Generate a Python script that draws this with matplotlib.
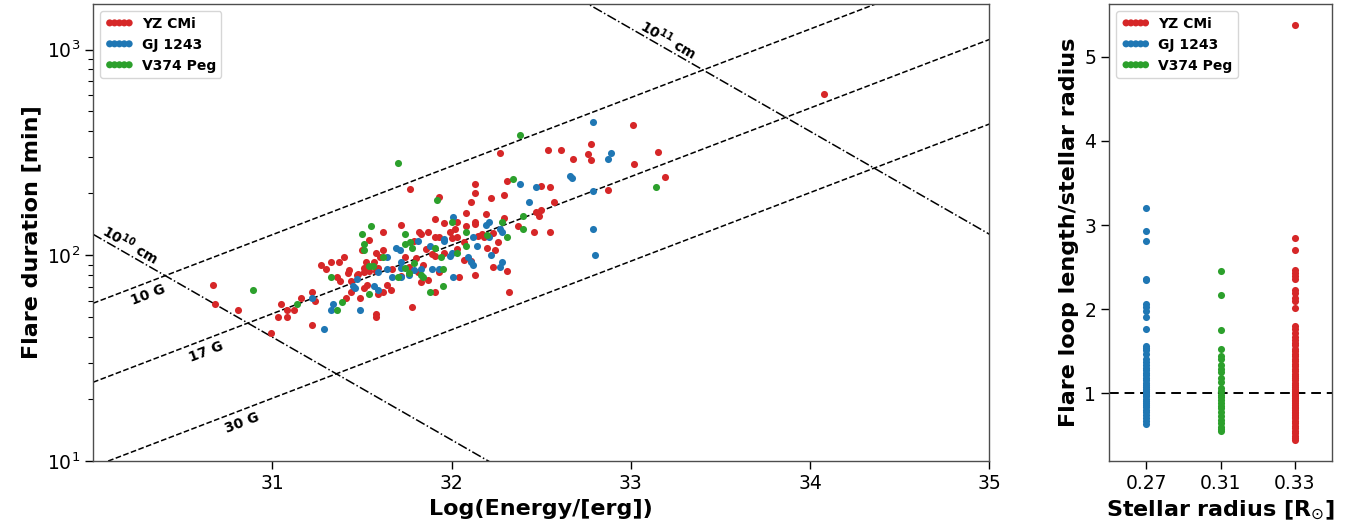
import numpy as np
import matplotlib
matplotlib.use("Agg")
import matplotlib.pyplot as plt

# ---- left panel: flare energy (log erg) vs duration (min)
yz_logE = [30.67, 30.68, 30.81, 30.99, 31.05, 31.03, 31.08, 31.08, 31.12, 31.16,
           31.22, 31.24, 31.22, 31.27, 31.30, 31.33, 31.36, 31.37, 31.40, 31.72,
           31.54, 31.62, 31.50, 31.62, 31.58, 31.60, 31.52, 31.57, 31.43, 31.42,
           31.51, 31.59, 31.58, 31.54, 31.51, 31.67, 31.38, 31.47, 31.48, 31.44,
           31.44, 31.51, 31.53, 31.64, 31.66, 31.62, 31.49, 31.41, 31.59, 31.58,
           31.58, 31.78, 31.77, 31.93, 32.13, 32.13, 32.11, 32.08, 32.13, 32.13,
           31.91, 31.96, 32.03, 32.08, 32.02, 31.99, 31.82, 31.87, 31.83, 31.91,
           31.93, 32.00, 32.03, 32.07, 31.79, 31.86, 32.03, 31.89, 31.91, 31.96,
           32.07, 31.74, 31.80, 31.76, 31.81, 31.84, 31.93, 31.87, 31.83, 32.04,
           32.13, 31.72, 31.91, 32.27, 32.54, 32.31, 32.22, 32.29, 32.50, 32.55,
           32.57, 32.19, 32.17, 32.18, 32.23, 32.29, 32.26, 32.15, 32.20, 32.24,
           32.23, 32.31, 32.11, 32.37, 32.46, 32.47, 32.50, 32.49, 32.55, 33.01,
           32.61, 32.68, 32.78, 32.76, 32.78, 33.15, 33.02, 33.19, 32.87, 34.08,
           32.32]
yz_dur = [72, 58, 54, 42, 58, 50, 50, 54, 54, 62,
          66, 60, 46, 90, 86, 93, 78, 93, 98, 140,
          118, 130, 106, 106, 102, 98, 93, 93, 85, 82,
          87, 87, 84, 84, 83, 86, 75, 80, 81, 75,
          66, 69, 72, 72, 68, 66, 62, 62, 65, 50,
          52, 56, 210, 192, 222, 201, 181, 160, 145, 142,
          150, 143, 145, 138, 134, 130, 130, 130, 127, 122,
          122, 121, 122, 116, 117, 107, 107, 101, 99, 103,
          95, 98, 97, 88, 83, 90, 83, 76, 74, 78,
          80, 79, 66, 315, 325, 230, 190, 196, 217, 215,
          181, 158, 127, 122, 128, 152, 116, 124, 108, 106,
          88, 84, 94, 138, 130, 162, 166, 155, 130, 431,
          325, 294, 348, 311, 291, 318, 278, 240, 207, 610,
          66]

gj_logE = [31.22, 31.29, 31.34, 31.33, 31.69, 31.71, 31.64, 31.72, 31.64, 31.72,
           31.47, 31.59, 31.67, 31.72, 31.45, 31.46, 31.57, 31.59, 31.49, 32.01,
           31.96, 31.96, 32.12, 31.81, 31.88, 32.14, 31.99, 32.00, 32.09, 32.11,
           31.79, 31.83, 31.89, 31.93, 32.01, 31.76, 32.38, 32.47, 32.43, 32.21,
           32.19, 32.21, 32.27, 32.28, 32.22, 32.28, 32.27, 32.12, 32.79, 32.89,
           32.87, 32.66, 32.67, 32.79, 32.79, 32.80]
gj_dur = [62, 44, 58, 54, 108, 106, 98, 93, 86, 87,
          77, 83, 78, 78, 71, 69, 71, 68, 54, 153,
          120, 117, 122, 117, 111, 111, 99, 103, 98, 93,
          85, 86, 86, 86, 78, 80, 222, 215, 181, 145,
          140, 122, 134, 130, 100, 93, 88, 90, 446, 314,
          294, 243, 238, 205, 134, 100]

v374_logE = [30.89, 31.14, 31.33, 31.36, 31.55, 31.50, 31.51, 31.51, 31.74, 31.74,
             31.62, 31.54, 31.56, 31.74, 31.70, 31.76, 31.54, 31.39, 31.70, 31.92,
             32.00, 32.08, 31.77, 31.78, 31.91, 32.08, 31.94, 32.03, 31.79, 31.95,
             31.83, 31.84, 31.95, 31.88, 32.38, 32.34, 32.20, 32.28, 32.31, 32.40,
             32.40, 33.14]
v374_dur = [68, 58, 78, 54, 139, 127, 114, 106, 127, 114,
            98, 89, 89, 87, 78, 82, 65, 59, 281, 186,
            145, 130, 116, 108, 108, 111, 98, 102, 92, 86,
            80, 78, 71, 66, 385, 235, 125, 145, 122, 155,
            134, 215]

# scaling-law reference lines
field_G = [10, 17, 30]
loop_cm = [1e10, 1e11]
c_field = -6.567
c_loop = -7.898

# ---- right panel: loop length / stellar radius
radius_labels = ['0.27', '0.31', '0.33']
yz_ratio = [5.38, 2.84, 2.70, 2.47, 2.43, 2.39, 2.36, 2.23, 2.19, 2.13, 2.09, 2.01,
            1.80, 1.76, 1.72, 1.67, 1.63, 1.60, 1.57, 1.53, 1.50, 1.47, 1.44, 1.41,
            1.38, 1.35, 1.32, 1.29, 1.26, 1.23, 1.20, 1.18, 1.15, 1.12, 1.10, 1.07,
            1.05, 1.02, 1.00, 0.98, 0.96, 0.94, 0.92, 0.90, 0.88, 0.86, 0.84, 0.82,
            0.80, 0.78, 0.76, 0.74, 0.72, 0.70, 0.67, 0.64, 0.61, 0.58, 0.55, 0.52,
            0.49, 0.46, 0.44]
gj_ratio = [3.20, 2.93, 2.81, 2.36, 2.34, 2.06, 2.02, 1.98, 1.90, 1.76, 1.56, 1.54,
            1.51, 1.46, 1.41, 1.37, 1.33, 1.30, 1.27, 1.24, 1.21, 1.18, 1.15, 1.12,
            1.10, 1.07, 1.05, 1.03, 1.00, 0.98, 0.96, 0.93, 0.91, 0.88, 0.86, 0.83,
            0.80, 0.77, 0.74, 0.70, 0.67, 0.63]
v374_ratio = [2.45, 2.17, 1.75, 1.52, 1.44, 1.40, 1.34, 1.29, 1.25, 1.18, 1.13, 1.06,
              1.02, 0.98, 0.95, 0.92, 0.88, 0.85, 0.82, 0.77, 0.73, 0.68, 0.64, 0.60,
              0.57, 0.55]

RED, BLUE, GREEN = '#d62728', '#1f77b4', '#2ca02c'
plt.rcParams['font.family'] = ['DejaVu Sans']

fig = plt.figure(figsize=(13.48, 5.31), dpi=100)
ax1 = fig.add_axes([0.069, 0.132, 0.665, 0.860])
ax2 = fig.add_axes([0.823, 0.132, 0.165, 0.860])

ms = 26
ax1.scatter(yz_logE, yz_dur, s=ms, c=RED, lw=0, label='YZ CMi', zorder=3)
ax1.scatter(gj_logE, gj_dur, s=ms, c=BLUE, lw=0, label='GJ 1243', zorder=3)
ax1.scatter(v374_logE, v374_dur, s=ms, c=GREEN, lw=0, label='V374 Peg', zorder=3)

xx = np.linspace(30, 35, 200)
for B in field_G:
    ax1.plot(xx, 10 ** (xx / 3 - 5 / 3 * np.log10(B) + c_field), 'k--', lw=1.1)
for L in loop_cm:
    ax1.plot(xx, 10 ** (-0.5 * xx + 2.5 * np.log10(L) + c_loop), 'k-.', lw=1.1)

tkw = dict(fontsize=10, fontweight='bold', ha='center', va='center')
ax1.text(30.21, 113, r'10$^{\mathbf{10}}$ cm', rotation=-30, **tkw)
ax1.text(33.21, 1119, r'10$^{\mathbf{11}}$ cm', rotation=-30, **tkw)
ax1.text(30.31, 64.5, '10 G', rotation=21, **tkw)
ax1.text(30.63, 34, '17 G', rotation=21, **tkw)
ax1.text(30.83, 15.3, '30 G', rotation=21, **tkw)

ax1.set_yscale('log')
ax1.set_xlim(30, 35)
ax1.set_ylim(10, 1660)
ax1.set_xticks([31, 32, 33, 34, 35])
ax1.set_xlabel('Log(Energy/[erg])', fontsize=16, fontweight='bold')
ax1.set_ylabel('Flare duration [min]', fontsize=16, fontweight='bold')

# right panel
ax2.scatter([2] * len(yz_ratio), yz_ratio, s=ms, c=RED, lw=0, label='YZ CMi', zorder=3)
ax2.scatter([0] * len(gj_ratio), gj_ratio, s=ms, c=BLUE, lw=0, label='GJ 1243', zorder=3)
ax2.scatter([1] * len(v374_ratio), v374_ratio, s=ms, c=GREEN, lw=0, label='V374 Peg', zorder=3)
ax2.axhline(1, color='k', ls='--', lw=1.4, dashes=(5, 3))
ax2.set_xlim(-0.5, 2.5)
ax2.set_xticks([0, 1, 2])
ax2.set_xticklabels(radius_labels)
ax2.set_yticks([1, 2, 3, 4, 5])
ax2.set_xlabel(r'Stellar radius [R$_{\odot}$]', fontsize=16, fontweight='bold')
ax2.set_ylabel('Flare loop length/stellar radius', fontsize=16, fontweight='bold')

for ax in (ax1, ax2):
    ax.tick_params(which='major', labelsize=13.5, length=6, width=1, direction='out')
    ax.tick_params(which='minor', length=3.5, width=0.8)
    for sp in ax.spines.values():
        sp.set_color('0.3')
        sp.set_linewidth(1)
    leg = ax.legend(loc='upper left', scatterpoints=5, scatteryoffsets=[0.5],
                    handlelength=2.0, handletextpad=0.6, borderpad=0.4,
                    labelspacing=0.5, prop={'weight': 'bold', 'size': 10},
                    fancybox=True, framealpha=0.8, edgecolor='0.8')

fig.savefig('out.png', dpi=100)
